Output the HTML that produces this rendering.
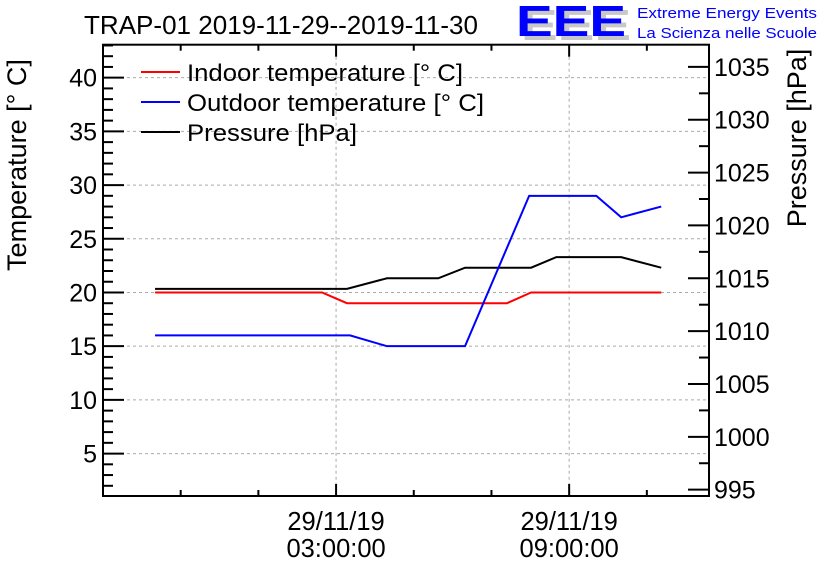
<!DOCTYPE html>
<html><head><meta charset="utf-8"><style>
body{margin:0;background:#fff;}
svg{display:block;font-family:"Liberation Sans",sans-serif;}
</style></head><body>
<svg id="chart" width="836" height="572">
<text x="84" y="34" font-size="25.5" textLength="394" lengthAdjust="spacingAndGlyphs">TRAP-01 2019-11-29--2019-11-30</text>
<g>
<text x="521" y="40" font-size="44" fill="#c8c8c8" font-weight="bold" textLength="110" lengthAdjust="spacingAndGlyphs">EEE</text>
<text x="516" y="36" font-size="44" fill="#0000ff" font-weight="bold" textLength="110" lengthAdjust="spacingAndGlyphs">EEE</text>
<text x="637" y="18" font-size="15" fill="#0000ff" textLength="180" lengthAdjust="spacingAndGlyphs">Extreme Energy Events</text>
<text x="637" y="38" font-size="15" fill="#0000ff" textLength="180" lengthAdjust="spacingAndGlyphs">La Scienza nelle Scuole</text>
</g>
<text transform="translate(26,165) rotate(-90)" text-anchor="middle" font-size="27" x="0" y="0">Temperature [° C]</text>
<text transform="translate(806,138) rotate(-90)" text-anchor="middle" font-size="27" x="0" y="0">Pressure [hPa]</text>
<g id="grid"></g><g id="series"></g><g id="axes"></g>
<g>
<line x1="141" y1="72" x2="180" y2="72" stroke="#f00" stroke-width="2"/>
<text x="187" y="81" font-size="24.5" textLength="276" lengthAdjust="spacingAndGlyphs">Indoor temperature [° C]</text>
<line x1="141" y1="102" x2="180" y2="102" stroke="#00f" stroke-width="2"/>
<text x="187" y="111" font-size="24.5" textLength="297" lengthAdjust="spacingAndGlyphs">Outdoor temperature [° C]</text>
<line x1="141" y1="132" x2="180" y2="132" stroke="#000" stroke-width="2"/>
<text x="187" y="141" font-size="24.5" textLength="170" lengthAdjust="spacingAndGlyphs">Pressure [hPa]</text>
</g>
</svg>
<script>
// times in hours relative to 2019-11-29 00:00
const indoorT = [-1.66, 2.64, 3.28, 7.40, 8.02, 11.37];
const indoorV = [20, 20, 19, 19, 20, 20];
const outdoorT = [-1.66, 3.36, 4.31, 6.32, 7.97, 9.70, 10.34, 11.37];
const outdoorV = [16, 16, 15, 15, 29, 29, 27, 28];
const pressT = [-1.66, 3.28, 4.31, 5.63, 6.32, 8.02, 8.67, 10.34, 11.37];
const pressV = [1014, 1014, 1015, 1015, 1016, 1016, 1017, 1017, 1016];
const tempTicks = [5,10,15,20,25,30,35,40];
const pressTicks = [995,1000,1005,1010,1015,1020,1025,1030,1035];
const timeTicks = [3, 9];
const timeLabels = [["29/11/19","03:00:00"],["29/11/19","09:00:00"]];

const L=103,R=709,T=44.7,B=496;
const tMin=-3.0,tMax=12.6, yMin=1.05,yMax=43.07, pMin=994.4,pMax=1037.1;
const X=t=>L+(t-tMin)/(tMax-tMin)*(R-L);
const Y=v=>B-(v-yMin)/(yMax-yMin)*(B-T);
const P=v=>B-(v-pMin)/(pMax-pMin)*(B-T);
const NS="http://www.w3.org/2000/svg";
function mk(tag,attrs,parent){const e=document.createElementNS(NS,tag);for(const k in attrs)e.setAttribute(k,attrs[k]);document.getElementById(parent).appendChild(e);return e;}
tempTicks.forEach(v=>{const e=mk('line',{x1:L,x2:R,y1:Y(v),y2:Y(v),stroke:'#aaa','stroke-dasharray':'3,3','stroke-width':1},'grid');

});
timeTicks.forEach(t=>{const e=mk('line',{x1:X(t),x2:X(t),y1:T,y2:B,stroke:'#aaa','stroke-dasharray':'3,3','stroke-width':1},'grid');

});
function line(ts,vs,f,color,name){const pts=ts.map((t,i)=>X(t)+','+f(vs[i])).join(' ');
const e=mk('polyline',{points:pts,fill:'none',stroke:color,'stroke-width':2},'series');

}
line(pressT,pressV,P,'#000','pressure-line');
line(indoorT,indoorV,Y,'#f00','indoor-temperature-line');
line(outdoorT,outdoorV,Y,'#00f','outdoor-temperature-line');
const fr=mk('rect',{x:L,y:T,width:R-L,height:B-T,fill:'none',stroke:'#000','stroke-width':2},'axes');


for(let v=2;v<=43;v++){const len=v%5==0?21:10;mk('line',{x1:L,x2:L+len,y1:Y(v),y2:Y(v),stroke:'#000','stroke-width':2},'axes');}
tempTicks.forEach(v=>{const e=mk('text',{x:L-6,y:Y(v)+9,'text-anchor':'end','font-size':25},'axes');e.textContent=v;

});
for(let v=995;v<=1037;v+=2.5){const len=v%5==0?21:10;mk('line',{x1:R-len,x2:R,y1:P(v),y2:P(v),stroke:'#000','stroke-width':2},'axes');}
pressTicks.forEach(v=>{const e=mk('text',{x:R+5,y:P(v)+9,'font-size':25},'axes');e.textContent=v;

});
for(let t=-1;t<=12.6;t+=2){const maj=(t-3)%6==0;const len=maj?12:6;
mk('line',{x1:X(t),x2:X(t),y1:B-len,y2:B,stroke:'#000','stroke-width':2},'axes');
mk('line',{x1:X(t),x2:X(t),y1:T,y2:T+len,stroke:'#000','stroke-width':2},'axes');}
timeTicks.forEach((t,i)=>{timeLabels[i].forEach((s,j)=>{const e=mk('text',{x:X(t),y:530+j*27,'text-anchor':'middle','font-size':25.5},'axes');e.textContent=s;

});});
</script>
</body></html>
